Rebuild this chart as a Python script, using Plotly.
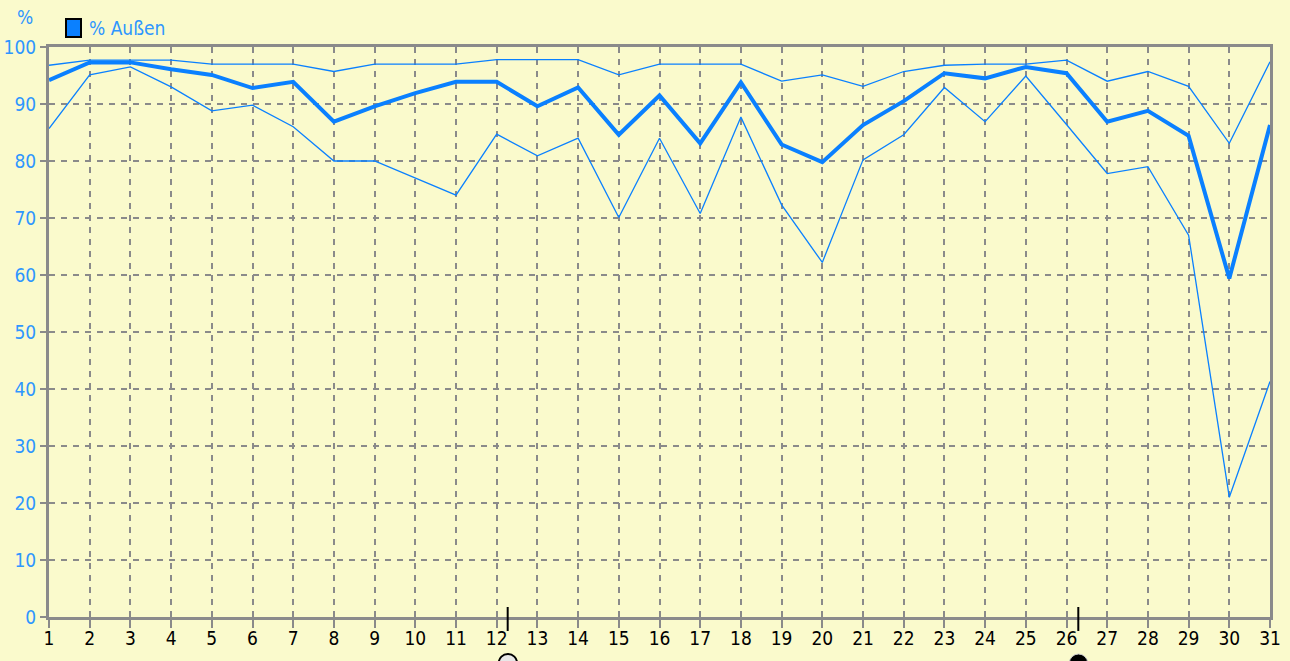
import plotly.graph_objects as go

days = list(range(1, 32))
avg_pct = [94.2, 97.3, 97.3, 96.1, 95.1, 92.8, 93.9, 86.9, 89.6, 91.9, 93.9, 93.9, 89.6, 92.9, 84.6,
           91.5, 83.1, 93.8, 82.9, 79.8, 86.3, 90.5, 95.4, 94.5, 96.5, 95.4, 86.9, 88.8, 84.4, 59.4, 86.3]
max_pct = [96.8, 97.7, 97.7, 97.7, 97.0, 97.0, 97.0, 95.7, 97.0, 97.0, 97.0, 97.8, 97.8, 97.8, 95.1,
           97.0, 97.0, 97.0, 94.0, 95.1, 93.1, 95.7, 96.8, 97.0, 97.0, 97.7, 94.0, 95.7, 93.1, 83.1, 97.4]
min_pct = [85.7, 95.1, 96.5, 93.0, 88.8, 89.8, 86.0, 80.0, 80.0, 77.0, 74.0, 84.7, 80.9, 84.0, 70.1,
           84.0, 70.8, 87.7, 72.3, 62.2, 80.2, 84.6, 92.9, 86.9, 94.9, 86.4, 77.8, 79.0, 67.0, 21.0, 41.3]
y_ticks = list(range(0, 101, 10))
markers_x = [12.27, 26.29]

BG = "#FAFACC"
BLUE = "#0A80FF"
LBLUE = "#2E96FF"
GRAY = "#8A8A8A"
FONT = "DejaVu Sans Condensed, sans-serif"

fig = go.Figure()
fig.add_trace(go.Scatter(x=days, y=max_pct, mode="lines", name="Max",
                         line=dict(color=BLUE, width=1.3), showlegend=False))
fig.add_trace(go.Scatter(x=days, y=min_pct, mode="lines", name="Min",
                         line=dict(color=BLUE, width=1.3), showlegend=False))
fig.add_trace(go.Scatter(x=days, y=avg_pct, mode="lines", name="% Außen",
                         line=dict(color=BLUE, width=4), showlegend=False))

shapes = []
shapes.append(dict(type="rect", xref="paper", yref="paper",
                   x0=17/1221, x1=32/1221, y0=(617-37)/570, y1=(617-19)/570,
                   fillcolor=BLUE, line=dict(color="black", width=2)))
for mx in markers_x:
    shapes.append(dict(type="line", xref="x", yref="paper", x0=mx, x1=mx,
                       y0=(617-607)/570, y1=(617-631)/570,
                       line=dict(color="black", width=2)))
shapes.append(dict(type="circle", xref="x", yref="paper", x0=12.05, x1=12.5,
                   y0=(617-654)/570, y1=(617-672)/570,
                   fillcolor="#E8E8E8", line=dict(color="black", width=2)))
shapes.append(dict(type="circle", xref="x", yref="paper", x0=26.07, x1=26.52,
                   y0=(617-654)/570, y1=(617-672)/570,
                   fillcolor="black", line=dict(color="#CCCCCC", width=1)))

annotations = [
    dict(text="% Außen", xref="paper", yref="paper", x=38/1221, y=(617-28)/570,
         xanchor="left", yanchor="middle", showarrow=False,
         font=dict(family=FONT, size=19, color=LBLUE)),
    dict(text="%", xref="paper", yref="paper", x=-24/1221, y=(617-17)/570,
         xanchor="center", yanchor="middle", showarrow=False,
         font=dict(family=FONT, size=19, color=LBLUE)),
]

fig.update_layout(
    width=1290, height=661,
    paper_bgcolor=BG, plot_bgcolor=BG,
    margin=dict(l=49, r=20, t=47, b=44, pad=0),
    shapes=shapes, annotations=annotations,
    showlegend=False,
    xaxis=dict(range=[1, 31], tickmode="array", tickvals=days, ticktext=[str(d) for d in days],
               showgrid=True, gridcolor=GRAY, gridwidth=2, griddash="6px,6px",
               showline=True, mirror=True, linecolor=GRAY, linewidth=3,
               ticks="outside", ticklen=8, tickwidth=2, tickcolor=GRAY, automargin=False,
               ticklabelstandoff=-6,
               tickfont=dict(family=FONT, size=19, color="black"), zeroline=False),
    yaxis=dict(range=[0, 100], tickmode="array", tickvals=y_ticks,
               showgrid=True, gridcolor=GRAY, gridwidth=2, griddash="6px,6px",
               showline=True, mirror=True, linecolor=GRAY, linewidth=3,
               ticks="outside", ticklen=6, tickwidth=2, tickcolor=GRAY, automargin=False,
               tickfont=dict(family=FONT, size=19, color=LBLUE), zeroline=False),
)

fig.write_html("out.html", config={"displayModeBar": False},
               post_script="document.body.style.margin='0';document.body.style.overflow='hidden';")
